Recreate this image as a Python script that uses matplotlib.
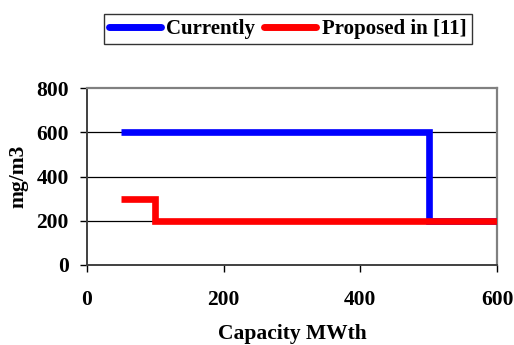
import matplotlib.pyplot as plt

# limites de emissão por capacidade
cap_atual = [50, 500, 500, 600]
lim_atual = [600, 600, 200, 200]
cap_proposto = [50, 100, 100, 600]
lim_proposto = [300, 300, 200, 200]

plt.rcParams['font.family'] = ['Liberation Serif', 'DejaVu Serif']
plt.rcParams['font.weight'] = 'bold'

fig = plt.figure(figsize=(5.14, 3.45), dpi=100)
ax = fig.add_axes([87 / 514, 1 - 265 / 345, 410 / 514, 177 / 345])

for y in [200, 400, 600]:
    ax.axhline(y, color='black', lw=0.9, zorder=1)

ax.plot(cap_atual, lim_atual, color='#0000ff', lw=4.8, label='Currently',
        solid_joinstyle='miter', solid_capstyle='butt', zorder=3)
ax.plot(cap_proposto, lim_proposto, color='#ff0000', lw=4.8, label='Proposed in [11]',
        solid_joinstyle='miter', solid_capstyle='butt', zorder=4)

ax.set_xlim(0, 600)
ax.set_ylim(0, 800)
ax.set_xticks([0, 200, 400, 600])
ax.set_yticks([0, 200, 400, 600, 800])
ax.tick_params(direction='out', length=5, width=1, labelsize=15.5, pad=8)
ax.tick_params(axis='x', pad=13)

for s in ['top', 'right']:
    ax.spines[s].set_color('#808080')
    ax.spines[s].set_linewidth(1.6)
for s in ['left', 'bottom']:
    ax.spines[s].set_color('#404040')
    ax.spines[s].set_linewidth(1.4)

ax.set_xlabel('Capacity MWth', fontsize=15.5, fontweight='bold', labelpad=10)
ax.set_ylabel('mg/m3', fontsize=15.5, fontweight='bold', labelpad=6)

leg = fig.legend(loc='center', bbox_to_anchor=(287.5 / 514, 1 - 29 / 345), ncol=2,
                 fontsize=15, frameon=True, fancybox=False, handlelength=2.5,
                 handletextpad=0.25, columnspacing=0.45, borderpad=0.25)
leg.get_frame().set_edgecolor('black')
leg.get_frame().set_linewidth(1.0)
for line in leg.get_lines():
    line.set_linewidth(5)
    line.set_solid_capstyle('round')

plt.savefig('out.png', dpi=100)
